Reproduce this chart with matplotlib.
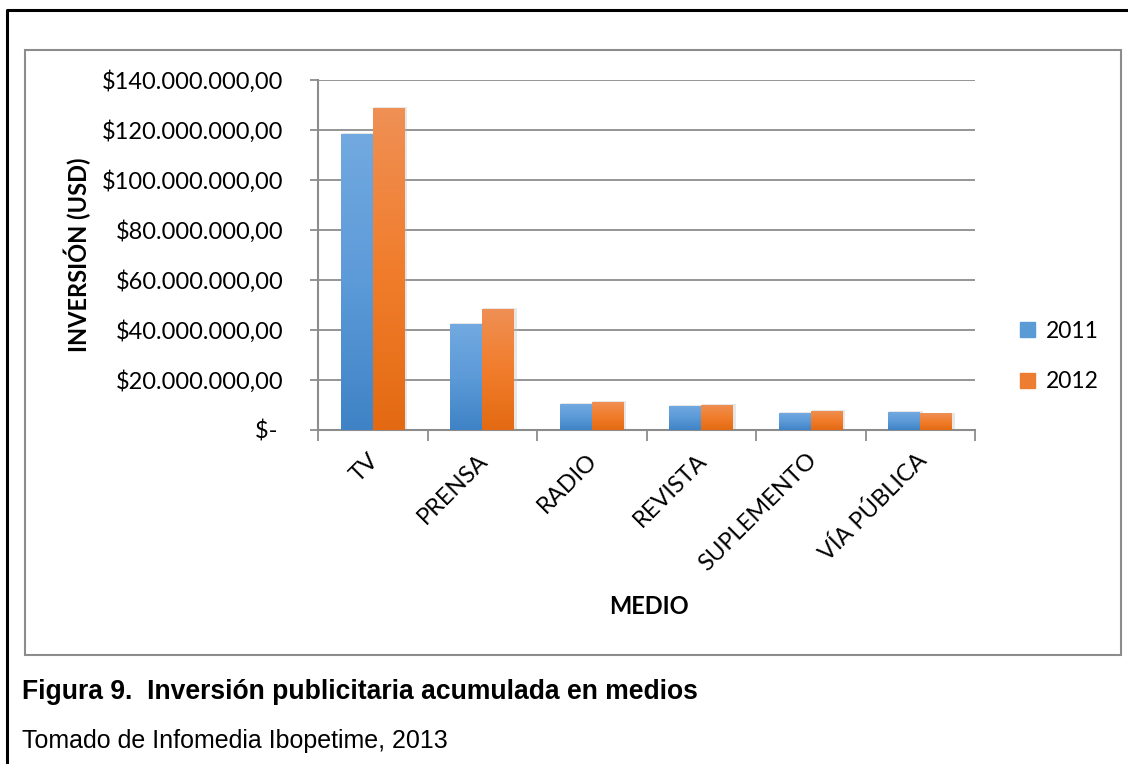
import numpy as np
import matplotlib
matplotlib.use('Agg')
import matplotlib.pyplot as plt
import matplotlib.transforms as mtransforms
from matplotlib.lines import Line2D
from matplotlib.patches import Rectangle
from matplotlib.colors import LinearSegmentedColormap

categories = ['TV', 'PRENSA', 'RADIO', 'REVISTA', 'SUPLEMENTO', 'VÍA PÚBLICA']
series_names = ['2011', '2012']
inv_2011 = [118.4e6, 42.4e6, 10.4e6, 9.7e6, 6.8e6, 7.2e6]
inv_2012 = [128.8e6, 48.5e6, 11.3e6, 10.1e6, 7.7e6, 6.6e6]
yticks = [0, 20e6, 40e6, 60e6, 80e6, 100e6, 120e6, 140e6]
ytick_labels = ['$- ', '$20.000.000,00', '$40.000.000,00', '$60.000.000,00',
                '$80.000.000,00', '$100.000.000,00', '$120.000.000,00', '$140.000.000,00']
y_title = 'INVERSIÓN (USD)'
x_title = 'MEDIO'
caption_title = 'Figura 9.  Inversión publicitaria acumulada en medios'
caption_source = 'Tomado de Infomedia Ibopetime, 2013'

W, H = 1128, 764
fig = plt.figure(figsize=(W / 100, H / 100), dpi=100)
fig.patch.set_facecolor('white')

def fx(px):
    return px / W

def fy(py):
    return 1 - py / H

# outer black frame (top and left)
fig.add_artist(Line2D([fx(7), fx(7), fx(1130)], [fy(770), fy(10), fy(10)],
                      color='black', lw=2.2, transform=fig.transFigure))
# inner chart frame
fig.add_artist(Rectangle((fx(25), fy(655)), fx(1121) - fx(25), fy(50) - fy(655),
                         fill=False, ec='#8c8c8c', lw=1.5, transform=fig.transFigure))

CHART_FONT = ['Lato', 'DejaVu Sans']
CAP_FONT = ['Liberation Sans', 'DejaVu Sans']
FS = 17

ax = fig.add_axes([fx(318), fy(430), fx(975) - fx(318), fy(80) - fy(430)])
ax.set_facecolor('none')

x = np.arange(len(categories))
bw = 0.292
blue_cmap = LinearSegmentedColormap.from_list('b', ['#3f83c6', '#5c9ad8', '#72a9e0'])
orange_cmap = LinearSegmentedColormap.from_list('o', ['#e36a12', '#f17d2c', '#ef9055'])

bars1 = ax.bar(x - bw / 2, inv_2011, bw, color='#5b9bd5', label=series_names[0], zorder=3)
bars2 = ax.bar(x + bw / 2, inv_2012, bw, color='#ed7d31', label=series_names[1], zorder=3)

grad = np.linspace(0, 1, 256).reshape(-1, 1)
for bars, cmap in ((bars1, blue_cmap), (bars2, orange_cmap)):
    for b in bars:
        x0, y0 = b.get_x(), b.get_y()
        w, h = b.get_width(), b.get_height()
        ax.add_patch(Rectangle((x0 + 0.01, y0), w + 0.012, h + 0.3e6, color='#bdbdbd',
                               alpha=0.35, zorder=2, lw=0))
        im = ax.imshow(grad, extent=(x0, x0 + w, y0, y0 + h), origin='lower', cmap=cmap,
                       aspect='auto', zorder=4, interpolation='bilinear')
        im.set_clip_path(b)

ax.set_xlim(-0.5, len(categories) - 0.5)
ax.set_ylim(0, 140e6)

ax.set_yticks(yticks)
ax.set_yticklabels(ytick_labels, fontsize=FS, family=CHART_FONT, color='black')
ax.tick_params(axis='y', length=6, width=1.3, color='#8c8c8c', pad=19)

ax.set_xticks(np.arange(-0.5, len(categories), 1))
ax.set_xticklabels([])
ax.tick_params(axis='x', which='major', length=8, width=1.3, color='#8c8c8c')
ax.set_xticks(x, minor=True)
ax.set_xticklabels(categories, minor=True, rotation=45, ha='right', va='top',
                   rotation_mode='anchor', fontsize=FS, family=CHART_FONT)
ax.tick_params(axis='x', which='minor', length=0, pad=14)
shift = mtransforms.ScaledTranslation(-5 / 100, 0, fig.dpi_scale_trans)
for lab in ax.get_xticklabels(minor=True):
    lab.set_rotation_mode('anchor')
    lab.set_horizontalalignment('right')
    lab.set_transform(lab.get_transform() + shift)

ax.grid(axis='y', color='#8c8c8c', lw=1.3, zorder=0)
ax.set_axisbelow(True)
for s in ('top', 'right'):
    ax.spines[s].set_visible(False)
for s in ('left', 'bottom'):
    ax.spines[s].set_color('#8c8c8c')
    ax.spines[s].set_linewidth(1.5)

fig.text(fx(77), fy(255), y_title, rotation=90, ha='center', va='center',
         fontsize=FS, fontweight='bold', family=CHART_FONT)
fig.text(fx(649), fy(606), x_title, ha='center', va='center',
         fontsize=FS, fontweight='bold', family=CHART_FONT)

leg = fig.legend(handles=[Rectangle((0, 0), 1, 1, color='#5b9bd5'),
                          Rectangle((0, 0), 1, 1, color='#ed7d31')],
                 labels=series_names, loc='upper left',
                 bbox_to_anchor=(fx(999), fy(300)), frameon=False,
                 handlelength=0.68, handleheight=0.68, handletextpad=0.45,
                 labelspacing=1.3, prop={'family': CHART_FONT, 'size': 16.5})

fig.text(fx(22), fy(692), caption_title, ha='left', va='center',
         fontsize=19.1, fontweight='bold', family=CAP_FONT)
fig.text(fx(22), fy(741), caption_source, ha='left', va='center',
         fontsize=18, family=CAP_FONT)

fig.savefig('out.png', dpi=100, facecolor='white')
